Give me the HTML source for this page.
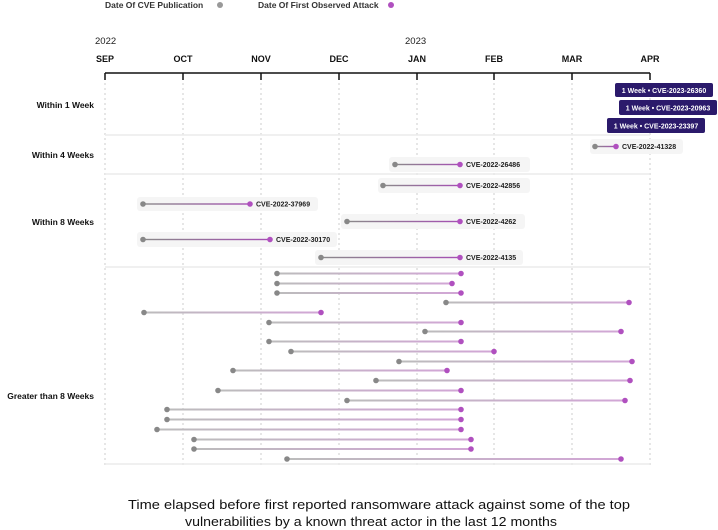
<!DOCTYPE html>
<html><head><meta charset="utf-8"><style>
html,body{margin:0;padding:0;background:#fff;}
svg{display:block;font-family:"Liberation Sans",sans-serif;}
</style></head><body>
<svg width="718" height="530" viewBox="0 0 718 530" xmlns="http://www.w3.org/2000/svg">
<defs>
<linearGradient id="g1" x1="0" x2="1" y1="0" y2="0"><stop offset="0" stop-color="#8a8a8a"/><stop offset="1" stop-color="#a54fb3"/></linearGradient>
<linearGradient id="g2" x1="0" x2="1" y1="0" y2="0"><stop offset="0" stop-color="#bcbcbc"/><stop offset="1" stop-color="#d2a6d6"/></linearGradient>
</defs>
<!-- legend -->
<text x="105" y="8" font-size="8.5" font-weight="bold" fill="#333">Date Of CVE Publication</text>
<circle cx="220" cy="5" r="3" fill="#999"/>
<text x="258" y="8" font-size="8.5" font-weight="bold" fill="#333">Date Of First Observed Attack</text>
<circle cx="391" cy="5" r="3" fill="#b050bf"/>
<!-- years/months -->
<text x="95" y="44" font-size="9.5" fill="#222">2022</text>
<text x="405" y="44" font-size="9.5" fill="#222">2023</text>
<g font-size="9" font-weight="bold" fill="#111" text-anchor="middle">
<text x="105" y="62">SEP</text><text x="183" y="62">OCT</text><text x="261" y="62">NOV</text><text x="339" y="62">DEC</text><text x="417" y="62">JAN</text><text x="494" y="62">FEB</text><text x="572" y="62">MAR</text><text x="650" y="62">APR</text>
</g>
<!-- grid -->
<g stroke="#ccc" stroke-width="1" stroke-dasharray="2,3">
<line x1="105" y1="78" x2="105" y2="465"/><line x1="183" y1="78" x2="183" y2="465"/><line x1="261" y1="78" x2="261" y2="465"/><line x1="339" y1="78" x2="339" y2="465"/><line x1="417" y1="78" x2="417" y2="465"/><line x1="494" y1="78" x2="494" y2="465"/><line x1="572" y1="78" x2="572" y2="465"/><line x1="650" y1="78" x2="650" y2="465"/>
</g>
<g stroke="#111" stroke-width="1.5">
<line x1="105" y1="73" x2="650" y2="73"/>
<line x1="105" y1="73" x2="105" y2="80"/><line x1="183" y1="73" x2="183" y2="80"/><line x1="261" y1="73" x2="261" y2="80"/><line x1="339" y1="73" x2="339" y2="80"/><line x1="417" y1="73" x2="417" y2="80"/><line x1="494" y1="73" x2="494" y2="80"/><line x1="572" y1="73" x2="572" y2="80"/><line x1="650" y1="73" x2="650" y2="80"/>
</g>
<g stroke="#ececec" stroke-width="1.5">
<line x1="105" y1="135" x2="650" y2="135"/><line x1="105" y1="174" x2="650" y2="174"/><line x1="105" y1="267" x2="650" y2="267"/><line x1="105" y1="464" x2="650" y2="464"/>
</g>
<!-- category labels -->
<g font-size="8.5" font-weight="bold" fill="#111" text-anchor="end">
<text x="94" y="108">Within 1 Week</text>
<text x="94" y="158">Within 4 Weeks</text>
<text x="94" y="225">Within 8 Weeks</text>
<text x="94" y="399">Greater than 8 Weeks</text>
</g>
<!-- badges -->
<g font-size="7" font-weight="bold" fill="#fff" text-anchor="middle">
<rect x="615" y="83" width="98" height="14" rx="2" fill="#2b1a6b"/><text x="664" y="93">1 Week • CVE-2023-26360</text>
<rect x="619" y="100" width="98" height="15" rx="2" fill="#2b1a6b"/><text x="668" y="110.5">1 Week • CVE-2023-20963</text>
<rect x="607" y="118" width="98" height="15" rx="2" fill="#2b1a6b"/><text x="656" y="128.5">1 Week • CVE-2023-23397</text>
</g>
<!-- labeled rows -->
<g font-size="7" font-weight="bold" fill="#222">
<rect x="590" y="139" width="93" height="15" rx="3" fill="#f5f5f5"/>
<rect x="595" y="145.8" width="21" height="1.4" fill="url(#g1)"/><circle cx="595" cy="146.5" r="2.8" fill="#888"/><circle cx="616" cy="146.5" r="2.8" fill="#b050bf"/><text x="622" y="149">CVE-2022-41328</text>
<rect x="389" y="157" width="141" height="15" rx="3" fill="#f5f5f5"/>
<rect x="395" y="163.8" width="65" height="1.4" fill="url(#g1)"/><circle cx="395" cy="164.5" r="2.8" fill="#888"/><circle cx="460" cy="164.5" r="2.8" fill="#b050bf"/><text x="466" y="167">CVE-2022-26486</text>
<rect x="378" y="178" width="152" height="15" rx="3" fill="#f5f5f5"/>
<rect x="383" y="184.8" width="77" height="1.4" fill="url(#g1)"/><circle cx="383" cy="185.5" r="2.8" fill="#888"/><circle cx="460" cy="185.5" r="2.8" fill="#b050bf"/><text x="466" y="188">CVE-2022-42856</text>
<rect x="137" y="197" width="181" height="14" rx="3" fill="#f5f5f5"/>
<rect x="143" y="203.3" width="107" height="1.4" fill="url(#g1)"/><circle cx="143" cy="204" r="2.8" fill="#888"/><circle cx="250" cy="204" r="2.8" fill="#b050bf"/><text x="256" y="206.5">CVE-2022-37969</text>
<rect x="341" y="214" width="184" height="15" rx="3" fill="#f5f5f5"/>
<rect x="347" y="220.8" width="113" height="1.4" fill="url(#g1)"/><circle cx="347" cy="221.5" r="2.8" fill="#888"/><circle cx="460" cy="221.5" r="2.8" fill="#b050bf"/><text x="466" y="224">CVE-2022-4262</text>
<rect x="137" y="232" width="200" height="15" rx="3" fill="#f5f5f5"/>
<rect x="143" y="238.8" width="127" height="1.4" fill="url(#g1)"/><circle cx="143" cy="239.5" r="2.8" fill="#888"/><circle cx="270" cy="239.5" r="2.8" fill="#b050bf"/><text x="276" y="242">CVE-2022-30170</text>
<rect x="315" y="250" width="208" height="15" rx="3" fill="#f5f5f5"/>
<rect x="321" y="256.8" width="139" height="1.4" fill="url(#g1)"/><circle cx="321" cy="257.5" r="2.8" fill="#888"/><circle cx="460" cy="257.5" r="2.8" fill="#b050bf"/><text x="466" y="260">CVE-2022-4135</text>
</g>
<!-- >8 weeks rows -->
<g fill="url(#g2)">
<rect x="277" y="272.5" width="184" height="2"/><rect x="277" y="282.5" width="175" height="2"/><rect x="277" y="292" width="184" height="2"/><rect x="446" y="301.5" width="183" height="2"/><rect x="144" y="311.5" width="177" height="2"/><rect x="269" y="321.5" width="192" height="2"/><rect x="425" y="330.5" width="196" height="2"/><rect x="269" y="340.5" width="192" height="2"/><rect x="291" y="350.5" width="203" height="2"/><rect x="399" y="360.5" width="233" height="2"/><rect x="233" y="369.5" width="214" height="2"/><rect x="376" y="379.5" width="254" height="2"/><rect x="218" y="389.5" width="243" height="2"/><rect x="347" y="399.5" width="278" height="2"/><rect x="167" y="408.5" width="294" height="2"/><rect x="167" y="418.5" width="294" height="2"/><rect x="157" y="428.5" width="304" height="2"/><rect x="194" y="438.5" width="277" height="2"/><rect x="194" y="448" width="277" height="2"/><rect x="287" y="458" width="334" height="2"/>
</g>
<g fill="#888">
<circle cx="277" cy="273.5" r="2.8"/><circle cx="277" cy="283.5" r="2.8"/><circle cx="277" cy="293" r="2.8"/><circle cx="446" cy="302.5" r="2.8"/><circle cx="144" cy="312.5" r="2.8"/><circle cx="269" cy="322.5" r="2.8"/><circle cx="425" cy="331.5" r="2.8"/><circle cx="269" cy="341.5" r="2.8"/><circle cx="291" cy="351.5" r="2.8"/><circle cx="399" cy="361.5" r="2.8"/><circle cx="233" cy="370.5" r="2.8"/><circle cx="376" cy="380.5" r="2.8"/><circle cx="218" cy="390.5" r="2.8"/><circle cx="347" cy="400.5" r="2.8"/><circle cx="167" cy="409.5" r="2.8"/><circle cx="167" cy="419.5" r="2.8"/><circle cx="157" cy="429.5" r="2.8"/><circle cx="194" cy="439.5" r="2.8"/><circle cx="194" cy="449" r="2.8"/><circle cx="287" cy="459" r="2.8"/>
</g>
<g fill="#b050bf">
<circle cx="461" cy="273.5" r="2.8"/><circle cx="452" cy="283.5" r="2.8"/><circle cx="461" cy="293" r="2.8"/><circle cx="629" cy="302.5" r="2.8"/><circle cx="321" cy="312.5" r="2.8"/><circle cx="461" cy="322.5" r="2.8"/><circle cx="621" cy="331.5" r="2.8"/><circle cx="461" cy="341.5" r="2.8"/><circle cx="494" cy="351.5" r="2.8"/><circle cx="632" cy="361.5" r="2.8"/><circle cx="447" cy="370.5" r="2.8"/><circle cx="630" cy="380.5" r="2.8"/><circle cx="461" cy="390.5" r="2.8"/><circle cx="625" cy="400.5" r="2.8"/><circle cx="461" cy="409.5" r="2.8"/><circle cx="461" cy="419.5" r="2.8"/><circle cx="461" cy="429.5" r="2.8"/><circle cx="471" cy="439.5" r="2.8"/><circle cx="471" cy="449" r="2.8"/><circle cx="621" cy="459" r="2.8"/>
</g>
<!-- caption -->
<g font-size="13" fill="#111" text-anchor="middle">
<text x="379" y="509" textLength="502" lengthAdjust="spacingAndGlyphs">Time elapsed before first reported ransomware attack against some of the top</text>
<text x="371" y="526" textLength="372" lengthAdjust="spacingAndGlyphs">vulnerabilities by a known threat actor in the last 12 months</text>
</g>
</svg>
</body></html>
